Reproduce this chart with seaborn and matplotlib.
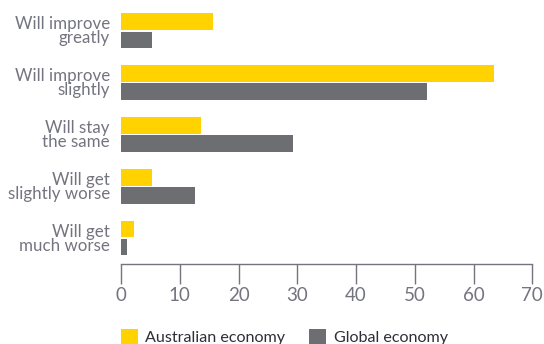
import pandas as pd
import seaborn as sns
import matplotlib.pyplot as plt
from matplotlib.patches import Patch

# datos
categorias = ['Will improve\ngreatly', 'Will improve\nslightly', 'Will stay\nthe same',
              'Will get\nslightly worse', 'Will get\nmuch worse']
series = ['Australian economy', 'Global economy']
australia = [15.6, 63.5, 13.6, 5.2, 2.2]
global_eco = [5.2, 52.1, 29.2, 12.6, 1.1]
ticks_x = [0, 10, 20, 30, 40, 50, 60, 70]

colores = ['#FFD200', '#6D6E71']
gris_texto = '#747480'

df = pd.DataFrame({
    'categoria': categorias * 2,
    'serie': [series[0]] * len(categorias) + [series[1]] * len(categorias),
    'valor': australia + global_eco,
})

sns.set_style('white')
plt.rcParams['font.family'] = ['Lato', 'DejaVu Sans']

fig = plt.figure(figsize=(5.44, 3.44), dpi=100)
ax = fig.add_axes([0.2224, 0.2317, 0.7561, 0.7538])

sns.barplot(data=df, x='valor', y='categoria', hue='serie', orient='h',
            palette=colores, width=0.7, gap=0.08, legend=False, ax=ax,
            saturation=1, edgecolor='none')

ax.set_xlim(0, 70)
ax.set_ylim(4.506, -0.5)
ax.set_xticks(ticks_x)
ax.set_xlabel('')
ax.set_ylabel('')

for s in ['top', 'right', 'left']:
    ax.spines[s].set_visible(False)
ax.spines['bottom'].set_color(gris_texto)
ax.spines['bottom'].set_linewidth(1)

ax.tick_params(axis='x', direction='out', length=14.4, width=1, color=gris_texto,
               labelcolor=gris_texto, labelsize=13.5, pad=2, bottom=True)
ax.tick_params(axis='y', length=0, labelcolor=gris_texto, labelsize=12.2, pad=8)
for lbl in ax.get_yticklabels():
    lbl.set_linespacing(0.85)

handles = [Patch(facecolor=c, edgecolor='none') for c in colores]
fig.legend(handles, series, loc='upper left', bbox_to_anchor=(0.2224, 0.044),
           ncol=2, frameon=False, fontsize=11.6, handlelength=1.05, handleheight=1.05,
           handletextpad=0.45, columnspacing=1.5, borderpad=0, borderaxespad=0,
           labelcolor='#2e2e38')

plt.savefig('out.png', dpi=100)
